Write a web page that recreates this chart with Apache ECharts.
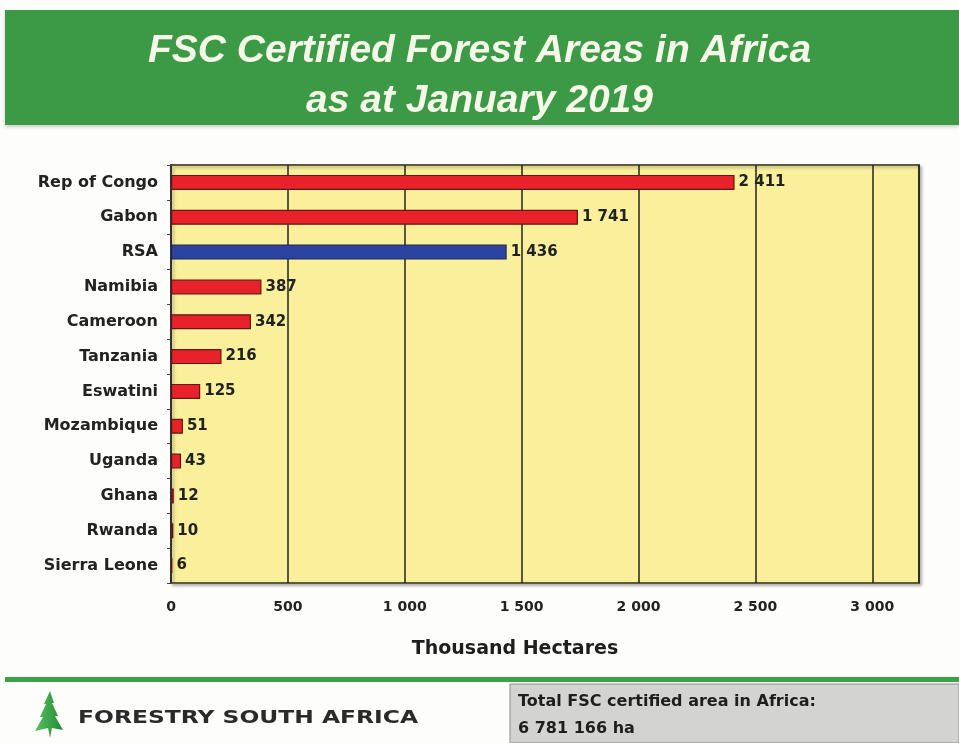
<!DOCTYPE html>
<html>
<head>
<meta charset="utf-8">
<script src="https://cdn.jsdelivr.net/npm/echarts@6/dist/echarts.min.js"></script>
<style>
  html, body { margin: 0; padding: 0; background: #fdfdfb; }
  #chart { width: 959px; height: 743px; }
</style>
</head>
<body>
<div id="chart"></div>
<script>
// Certified area per country, thousand hectares
const countries = ['Rep of Congo', 'Gabon', 'RSA', 'Namibia', 'Cameroon', 'Tanzania',
  'Eswatini', 'Mozambique', 'Uganda', 'Ghana', 'Rwanda', 'Sierra Leone'];
const areas = [2411, 1741, 1436, 387, 342, 216, 125, 51, 43, 12, 10, 6];
const xTicks = [0, 500, 1000, 1500, 2000, 2500, 3000];
const titleLines = ['FSC Certified Forest Areas in Africa', 'as at January 2019'];
const totalLines = ['Total FSC certified area in Africa:', '6 781 166 ha'];

const highlighted = 'RSA';
const FONT = 'DejaVu Sans, Verdana, sans-serif';

// thousands grouped with a space, e.g. 2 411
function spaced(v) {
  return String(v).replace(/\B(?=(\d{3})+(?!\d))/g, ' ');
}

const chart = echarts.init(document.getElementById('chart'), null, { renderer: 'canvas' });

const barData = areas.map((v, i) => ({
  value: v,
  itemStyle: {
    color: countries[i] === highlighted ? '#2c44a0' : '#e8212b',
    borderColor: countries[i] === highlighted ? '#1c2660' : '#5e1a12'
  }
}));

chart.setOption({
  backgroundColor: '#fdfdfb',
  animation: false,
  title: {
    text: titleLines.join('\n'),
    left: 'center',
    top: 21,
    textStyle: {
      fontFamily: 'Liberation Sans, Arial, sans-serif',
      fontStyle: 'italic',
      fontWeight: 'bold',
      fontSize: 39,
      lineHeight: 50,
      color: '#f5f8e8'
    },
    z: 10
  },
  grid: {
    left: 171,
    right: 40,
    top: 165,
    bottom: 160,
    show: true,
    backgroundColor: '#faf09c',
    borderColor: '#5c5a3e',
    borderWidth: 2,
    shadowColor: 'rgba(0,0,0,0.25)',
    shadowBlur: 3,
    shadowOffsetX: 2,
    shadowOffsetY: 2
  },
  xAxis: {
    type: 'value',
    min: 0,
    max: 3200,
    interval: 500,
    name: 'Thousand Hectares',
    nameLocation: 'middle',
    nameGap: 57,
    nameTextStyle: {
      fontFamily: FONT,
      fontWeight: 'bold',
      fontSize: 19,
      color: '#1e1e1e',
      padding: [0, 0, 0, -60]
    },
    axisLine: { show: false },
    axisTick: { show: false },
    axisLabel: {
      margin: 17,
      fontFamily: FONT,
      fontWeight: 'bold',
      fontSize: 14,
      color: '#222',
      showMaxLabel: false,
      formatter: v => (xTicks.indexOf(v) >= 0 ? spaced(v) : '')
    },
    splitLine: { show: true, lineStyle: { color: '#222', width: 1.5 } }
  },
  yAxis: {
    type: 'category',
    inverse: true,
    data: countries,
    axisLine: { show: true, lineStyle: { color: '#333', width: 1.5 } },
    axisTick: { show: true, length: 4, lineStyle: { color: '#444' } },
    axisLabel: {
      margin: 13,
      fontFamily: FONT,
      fontWeight: 'bold',
      fontSize: 16,
      color: '#222'
    }
  },
  series: [{
    type: 'bar',
    data: barData,
    barWidth: 15,
    itemStyle: { borderWidth: 1.2 },
    label: {
      show: true,
      position: 'right',
      distance: 4,
      fontFamily: FONT,
      fontWeight: 'bold',
      fontSize: 15,
      color: '#222',
      formatter: p => spaced(p.value)
    },
    z: 5
  }],
  graphic: [
    // header band
    {
      type: 'rect', z: 0,
      shape: { x: 5, y: 10, width: 954, height: 115 },
      style: { fill: '#3c9946', shadowColor: 'rgba(0,0,0,0.2)', shadowBlur: 4, shadowOffsetY: 2 }
    },
    // footer rule
    {
      type: 'rect', z: 0,
      shape: { x: 5, y: 677, width: 954, height: 5 },
      style: { fill: '#3aa247' }
    },
    // total box
    {
      type: 'rect', z: 0,
      shape: { x: 510, y: 684, width: 449, height: 59 },
      style: { fill: '#d3d3d1', stroke: '#8d8d8a', lineWidth: 1 }
    },
    {
      type: 'text', z: 1, left: 518, top: 694,
      style: { text: totalLines[0], fill: '#1e1e1e', font: 'bold 16px ' + FONT }
    },
    {
      type: 'text', z: 1, left: 518, top: 721,
      style: { text: totalLines[1], fill: '#1e1e1e', font: 'bold 16px ' + FONT }
    },
    // logo tree
    {
      type: 'polygon', z: 1,
      shape: {
        points: [[50, 691], [54, 703], [52, 703], [58, 716], [55, 716], [63, 730],
          [52, 728], [50, 738], [48, 728], [35, 731], [43, 717], [40, 717],
          [46, 704], [44, 704]]
      },
      style: {
        fill: new echarts.graphic.LinearGradient(0, 0, 1, 0, [
          { offset: 0, color: '#5cc060' }, { offset: 1, color: '#1f8a35' }
        ])
      }
    },
    {
      type: 'text', z: 1, x: 78, y: 709, scaleX: 1.3,
      style: { text: 'FORESTRY SOUTH AFRICA', fill: '#2a2a2a', font: 'bold 18px ' + FONT }
    }
  ]
});
</script>
</body>
</html>
